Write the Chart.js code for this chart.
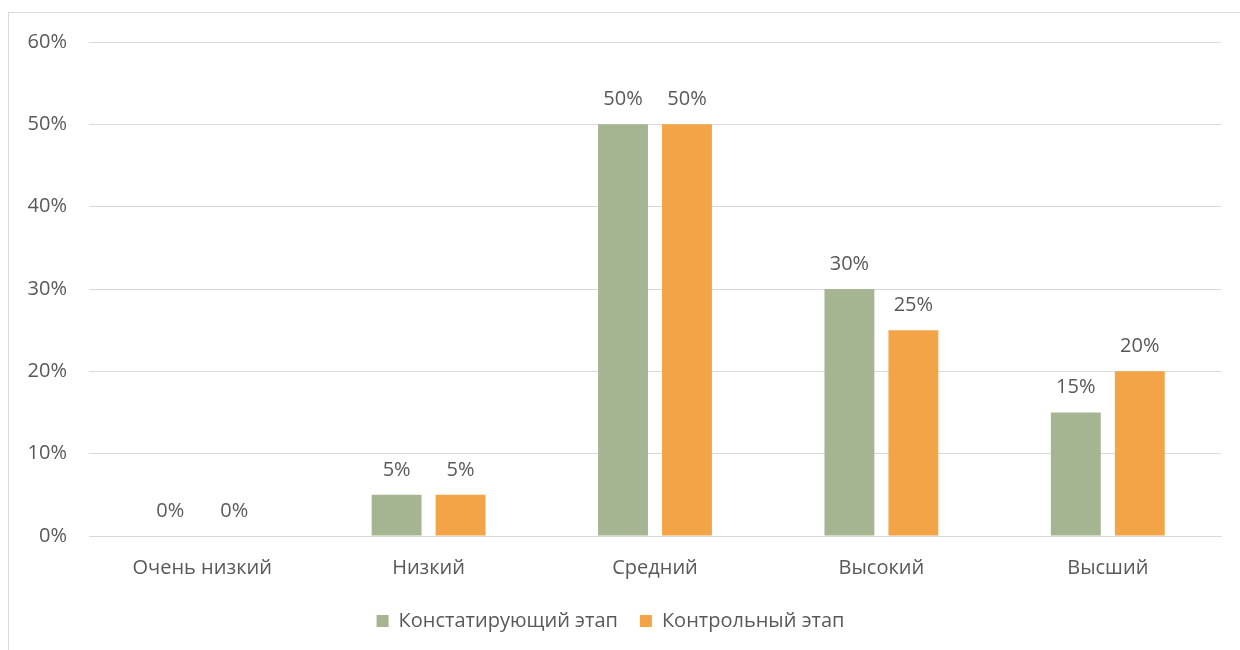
<!DOCTYPE html>
<html>
<head>
<meta charset="utf-8">
<script src="https://cdn.jsdelivr.net/npm/chart.js@4.4.0/dist/chart.umd.min.js"></script>
<style>
  html, body { margin: 0; padding: 0; background: #fff; }
  #wrap { position: relative; width: 1240px; height: 650px; overflow: hidden; }
  #frame { position: absolute; left: 8px; top: 12px; width: 1300px; height: 700px; border: 1px solid #d9d9d9; box-sizing: border-box; }
  #chart { position: absolute; left: 0; top: 0; }
</style>
</head>
<body>
<div id="wrap">
  <div id="frame"></div>
  <canvas id="chart" width="1240" height="650"></canvas>
</div>
<script>
// Chart data
const categories = ['Очень низкий', 'Низкий', 'Средний', 'Высокий', 'Высший'];
const seriesNames = ['Констатирующий этап', 'Контрольный этап'];
const stageOne = [0, 5, 50, 30, 15];
const stageTwo = [0, 5, 50, 25, 20];
const yTicks = [0, 10, 20, 30, 40, 50, 60];

const textColor = '#595959';
const fontFamily = "'Open Sans', 'Noto Sans', sans-serif";
const fontSize = 20;

// draws the % labels above each bar
const barLabels = {
  id: 'barLabels',
  afterDatasetsDraw(chart) {
    const ctx = chart.ctx;
    ctx.save();
    ctx.font = fontSize + 'px ' + fontFamily;
    ctx.fillStyle = textColor;
    ctx.textAlign = 'center';
    ctx.textBaseline = 'middle';
    chart.data.datasets.forEach(function(ds, i) {
      const meta = chart.getDatasetMeta(i);
      meta.data.forEach(function(bar, j) {
        ctx.fillText(ds.data[j] + '%', bar.x, bar.y - 25);
      });
    });
    ctx.restore();
  }
};

const ctx = document.getElementById('chart').getContext('2d');
new Chart(ctx, {
  type: 'bar',
  data: {
    labels: categories,
    datasets: [{
      label: seriesNames[0],
      data: stageOne,
      backgroundColor: '#a5b592'
    }, {
      label: seriesNames[1],
      data: stageTwo,
      backgroundColor: '#f3a447'
    }]
  },
  options: {
    responsive: false,
    animation: false,
    categoryPercentage: 0.565,
    barPercentage: 0.78,
    layout: {
      padding: { left: 0, right: 19, top: 42, bottom: 9 }
    },
    scales: {
      x: {
        grid: { display: false },
        border: { color: '#d9d9d9', width: 1 },
        ticks: {
          color: textColor,
          font: { family: fontFamily, size: fontSize },
          padding: 12
        },
        afterFit: function(scale) { scale.height = 53; }
      },
      y: {
        min: 0,
        max: 60,
        afterBuildTicks: function(scale) {
          scale.ticks = yTicks.map(v => ({ value: v }));
        },
        grid: { color: '#d9d9d9', lineWidth: 1, drawTicks: false },
        border: { display: false },
        ticks: {
          color: textColor,
          font: { family: fontFamily, size: fontSize },
          padding: 22,
          callback: function(value) { return value + '%'; }
        },
        afterFit: function(scale) { scale.width = 89; }
      }
    },
    plugins: {
      legend: {
        position: 'bottom',
        labels: {
          color: textColor,
          font: { family: fontFamily, size: fontSize },
          boxWidth: 12,
          boxHeight: 12,
          padding: 22
        }
      },
      tooltip: { enabled: false }
    }
  },
  plugins: [barLabels]
});
</script>
</body>
</html>
